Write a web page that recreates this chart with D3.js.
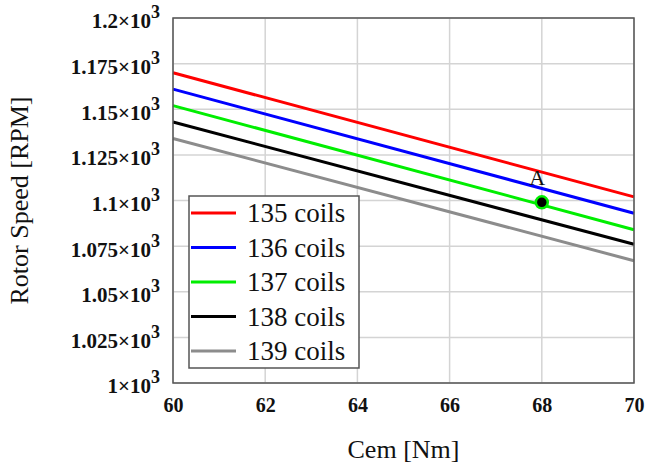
<!DOCTYPE html>
<html>
<head>
<meta charset="utf-8">
<script src="https://cdn.jsdelivr.net/npm/d3@7"></script>
<style>
  body { margin: 0; background: #fff; }
  svg { display: block; }
  svg text { font-family: "Liberation Serif", "Times New Roman", serif; }
</style>
</head>
<body>
<div class="main"></div>
<script>
// data
const cem = [60, 70];
const seriesNames = ["135 coils", "136 coils", "137 coils", "138 coils", "139 coils"];
const speed135 = [1170, 1102];
const speed136 = [1161, 1093];
const speed137 = [1152, 1084];
const speed138 = [1143, 1076];
const speed139 = [1134, 1067];
const colors = ["#ff0000", "#0000ff", "#00ee00", "#000000", "#8c8c8c"];

const xTicks = [60, 62, 64, 66, 68, 70];
const yTicks = [1000, 1025, 1050, 1075, 1100, 1125, 1150, 1175, 1200];
const yTickLabels = ["1", "1.025", "1.05", "1.075", "1.1", "1.125", "1.15", "1.175", "1.2"];

const pointB = [68, 1099];     // dot on 137 coils line
const pointA = [67.9, 1108.5]; // "A" marker

const w = 650;
const h = 468;
const margin = { top: 18, right: 16, bottom: 85, left: 173 };
const serif = "Liberation Serif, Times New Roman, serif";

const svg = d3.select(".main").append("svg").attr("width", w).attr("height", h);

const x = d3.scaleLinear().domain([60, 70]).range([margin.left, w - margin.right]);
const y = d3.scaleLinear().domain([1000, 1200]).range([h - margin.bottom, margin.top]);

// grid
svg.append("g")
    .selectAll("line")
    .data(xTicks)
    .join("line")
    .attr("x1", (d) => x(d)).attr("x2", (d) => x(d))
    .attr("y1", y(1000)).attr("y2", y(1200))
    .attr("stroke", "#d4d4d4").attr("stroke-width", 1.5);

svg.append("g")
    .selectAll("line")
    .data(yTicks)
    .join("line")
    .attr("x1", x(60)).attr("x2", x(70))
    .attr("y1", (d) => y(d)).attr("y2", (d) => y(d))
    .attr("stroke", "#d4d4d4").attr("stroke-width", 1.5);

// axes
const xAxis = d3.axisBottom(x).tickValues(xTicks).tickSize(0).tickFormat(d3.format("d"));
const gx = svg.append("g")
    .attr("transform", `translate(0,${h - margin.bottom})`)
    .call(xAxis);
gx.select(".domain").remove();
gx.selectAll("text")
    .attr("y", 29).attr("dy", 0)
    .attr("fill", "#111")
    .style("font-family", serif)
    .style("font-size", "20px").style("font-weight", "bold");

const yAxis = d3.axisLeft(y).tickValues(yTicks).tickSize(0).tickPadding(13).tickFormat("");
const gy = svg.append("g")
    .attr("transform", `translate(${margin.left},0)`)
    .call(yAxis);
gy.select(".domain").remove();
gy.selectAll(".tick text")
    .attr("dy", "0.47em")
    .attr("fill", "#111")
    .style("font-family", serif)
    .style("font-size", "21px").style("font-weight", "bold")
    .each(function (d, i) {
        const t = d3.select(this);
        t.append("tspan").text(yTickLabels[i] + "×10");
        t.append("tspan").attr("dy", "-0.55em").style("font-size", "18px").text("3");
    });

// lines
const allSeries = [speed135, speed136, speed137, speed138, speed139];
const line = d3.line().x((d, i) => x(cem[i])).y((d) => y(d));

svg.append("g")
    .selectAll("path")
    .data(allSeries)
    .join("path")
    .attr("d", (d) => line(d))
    .attr("fill", "none")
    .attr("stroke", (d, i) => colors[i])
    .attr("stroke-width", 3);

// frame
svg.append("rect")
    .attr("x", x(60)).attr("y", y(1200))
    .attr("width", x(70) - x(60)).attr("height", y(1000) - y(1200))
    .attr("fill", "none").attr("stroke", "#555").attr("stroke-width", 1.5);

// markers
svg.append("circle")
    .attr("cx", x(pointB[0])).attr("cy", y(pointB[1]))
    .attr("r", 6).attr("fill", "#000")
    .attr("stroke", "#00ee00").attr("stroke-width", 2.5);

svg.append("text")
    .attr("x", x(pointA[0])).attr("y", y(pointA[1]))
    .attr("text-anchor", "middle")
    .style("font-family", serif)
    .style("font-size", "22px")
    .attr("fill", "#111")
    .text("A");

// legend
const legend = svg.append("g").attr("id", "legend");
legend.append("rect")
    .attr("x", 189).attr("y", 196)
    .attr("width", 170).attr("height", 172)
    .attr("fill", "#fff").attr("stroke", "#555").attr("stroke-width", 1.5);

const items = legend.selectAll("g")
    .data(seriesNames)
    .join("g")
    .attr("transform", (d, i) => `translate(0,${213 + i * 34.5})`);
items.append("line")
    .attr("x1", 191).attr("x2", 236)
    .attr("stroke", (d, i) => colors[i]).attr("stroke-width", 3);
items.append("text")
    .attr("x", 247).attr("y", 9)
    .style("font-family", serif)
    .style("font-size", "27px")
    .attr("fill", "#111")
    .text((d) => d);

// axis titles
svg.append("text")
    .attr("x", (x(60) + x(70)) / 2).attr("y", 458)
    .attr("text-anchor", "middle")
    .style("font-family", serif)
    .style("font-size", "26px")
    .attr("fill", "#111")
    .text("Cem [Nm]");

svg.append("text")
    .attr("transform", `translate(28,${(y(1000) + y(1200)) / 2}) rotate(-90)`)
    .attr("text-anchor", "middle")
    .style("font-family", serif)
    .style("font-size", "26px")
    .attr("fill", "#111")
    .text("Rotor Speed [RPM]");
</script>
</body>
</html>
